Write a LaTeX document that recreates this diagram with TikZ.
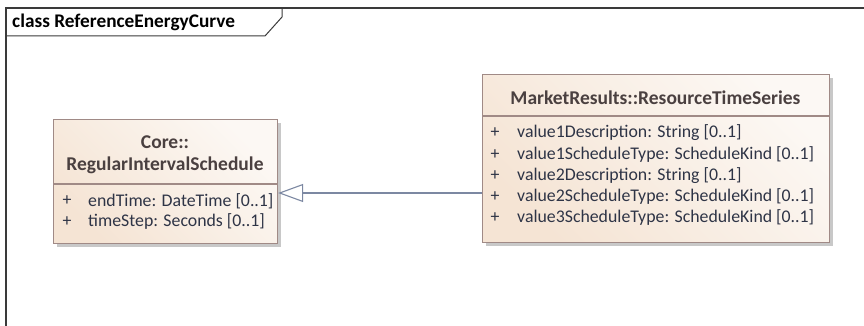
\documentclass[tikz,border=0pt]{standalone}
\usepackage{fontspec}
\setmainfont{Carlito}
\usetikzlibrary{arrows.meta}
\definecolor{frameC}{HTML}{3A3A3A}
\definecolor{boxBorder}{HTML}{A08A86}
\definecolor{boxA}{HTML}{F5E4D4}
\definecolor{boxB}{HTML}{FCF8F4}
\definecolor{shadowC}{HTML}{C8C8C8}
\definecolor{txtC}{HTML}{4A4040}
\definecolor{attrC}{HTML}{2E3446}
\definecolor{lineC}{HTML}{7C88A2}
\tikzset{
  classbox/.style={draw=boxBorder, line width=1.1pt, left color=boxA, right color=boxB, shading angle=135, inner sep=0pt},
  shadowbox/.style={fill=shadowC, draw=none},
  titletxt/.style={font=\bfseries\fontsize{19.5}{21.5}\selectfont, text=txtC, inner sep=0pt, align=center},
  attrtxt/.style={font=\fontsize{17.8}{19}\selectfont, text=attrC, inner sep=0pt, anchor=west},
  plus/.style={font=\fontsize{17.8}{19}\selectfont, text=attrC, inner sep=0pt},
  genline/.style={draw=lineC, line width=1.1pt, -{Triangle[open, length=25pt, width=18pt, fill=white]}},
}
\begin{document}
\begin{tikzpicture}[x=1pt, y=-1pt]
\useasboundingbox (0,0) rectangle (864,326);
% frame
\draw[frameC, line width=1.2pt] (6,326) -- (6,8) -- (864,8);
\draw[frameC, line width=1pt] (6,36) -- (265,36) -- (282,17) -- (282,8);
\node[font=\bfseries\fontsize{19.3}{21}\selectfont, text=black, anchor=west, inner sep=0pt] (title) at (12,22) {class ReferenceEnergyCurve};
% left class
\fill[shadowbox] (57,123) rectangle (281,247);
\node[classbox, minimum width=224pt, minimum height=124pt, anchor=north west] (ris) at (53,119) {};
\draw[boxBorder, line width=1.1pt] (53,184) -- (277,184);
\node[titletxt] (risT) at (165,155) {Core::\\RegularIntervalSchedule};
\node[plus] (rp1) at (67,201) {+};
\node[attrtxt] (ra1) at (88,201) {endTime: DateTime [0..1]};
\node[plus] (rp2) at (67,222) {+};
\node[attrtxt] (ra2) at (88,222) {timeStep: Seconds [0..1]};
% right class
\fill[shadowbox] (486,78) rectangle (833,246);
\node[classbox, minimum width=347pt, minimum height=168pt, anchor=north west] (rts) at (482,74) {};
\draw[boxBorder, line width=1.1pt] (482,116) -- (829,116);
\node[titletxt] (rtsT) at (655.5,98) {MarketResults::ResourceTimeSeries};
\node[plus] (p1) at (495,133) {+};
\node[attrtxt] (a1) at (517,133) {value1Description: String [0..1]};
\node[plus] (p2) at (495,155) {+};
\node[attrtxt] (a2) at (517,155) {value1ScheduleType: ScheduleKind [0..1]};
\node[plus] (p3) at (495,176) {+};
\node[attrtxt] (a3) at (517,176) {value2Description: String [0..1]};
\node[plus] (p4) at (495,197) {+};
\node[attrtxt] (a4) at (517,197) {value2ScheduleType: ScheduleKind [0..1]};
\node[plus] (p5) at (495,218) {+};
\node[attrtxt] (a5) at (517,218) {value3ScheduleType: ScheduleKind [0..1]};
% generalization
\coordinate (ay) at (0,193);
\draw[genline] (rts.west |- ay) -- (ris.east |- ay);
\end{tikzpicture}
\end{document}
